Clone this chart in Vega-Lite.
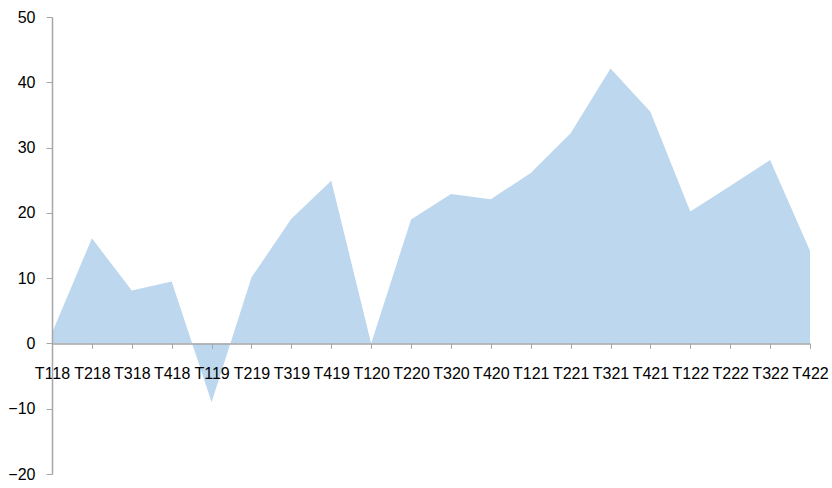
{
  "$schema": "https://vega.github.io/schema/vega-lite/v6.json",
  "width": 758,
  "height": 457,
  "autosize": "none",
  "padding": {"left": 52, "top": 17, "right": 22, "bottom": 14},
  "background": "white",
  "config": {
    "view": {"stroke": null},
    "font": "Liberation Sans"
  },
  "data": {
    "values": [
      {"q": "T118", "v": 1.6},
      {"q": "T218", "v": 16.1},
      {"q": "T318", "v": 8.1},
      {"q": "T418", "v": 9.5},
      {"q": "T119", "v": -9.0},
      {"q": "T219", "v": 10.1},
      {"q": "T319", "v": 19.1},
      {"q": "T419", "v": 24.9},
      {"q": "T120", "v": 0},
      {"q": "T220", "v": 19.0},
      {"q": "T320", "v": 22.9},
      {"q": "T420", "v": 22.1},
      {"q": "T121", "v": 26.1},
      {"q": "T221", "v": 32.2},
      {"q": "T321", "v": 42.1},
      {"q": "T421", "v": 35.5},
      {"q": "T122", "v": 20.2},
      {"q": "T222", "v": 24.1},
      {"q": "T322", "v": 28.1},
      {"q": "T422", "v": 14.2}
    ]
  },
  "mark": {"type": "area", "color": "#BDD7EE", "opacity": 1},
  "encoding": {
    "x": {
      "field": "q",
      "type": "ordinal",
      "sort": null,
      "scale": {"type": "point", "padding": 0},
      "axis": {
        "title": null,
        "orient": "bottom",
        "offset": -130.6,
        "zindex": 1,
        "labelAngle": 0,
        "domainColor": "#A6A6A6",
        "domainWidth": 1.5,
        "tickColor": "#A6A6A6",
        "tickSize": 5,
        "tickWidth": 1,
        "labelPadding": 17,
        "labelFontSize": 16,
        "labelColor": "#000000",
        "labelOverlap": false,
        "labelFlush": false,
        "grid": false
      }
    },
    "y": {
      "field": "v",
      "type": "quantitative",
      "scale": {"domain": [-20, 50], "nice": false, "zero": false},
      "axis": {
        "title": null,
        "zindex": 1,
        "values": [-20, -10, 0, 10, 20, 30, 40, 50],
        "domainColor": "#A6A6A6",
        "domainWidth": 1.5,
        "tickColor": "#A6A6A6",
        "tickSize": 6,
        "tickWidth": 1,
        "labelPadding": 11,
        "labelFontSize": 16,
        "labelColor": "#000000",
        "grid": false
      }
    }
  }
}
